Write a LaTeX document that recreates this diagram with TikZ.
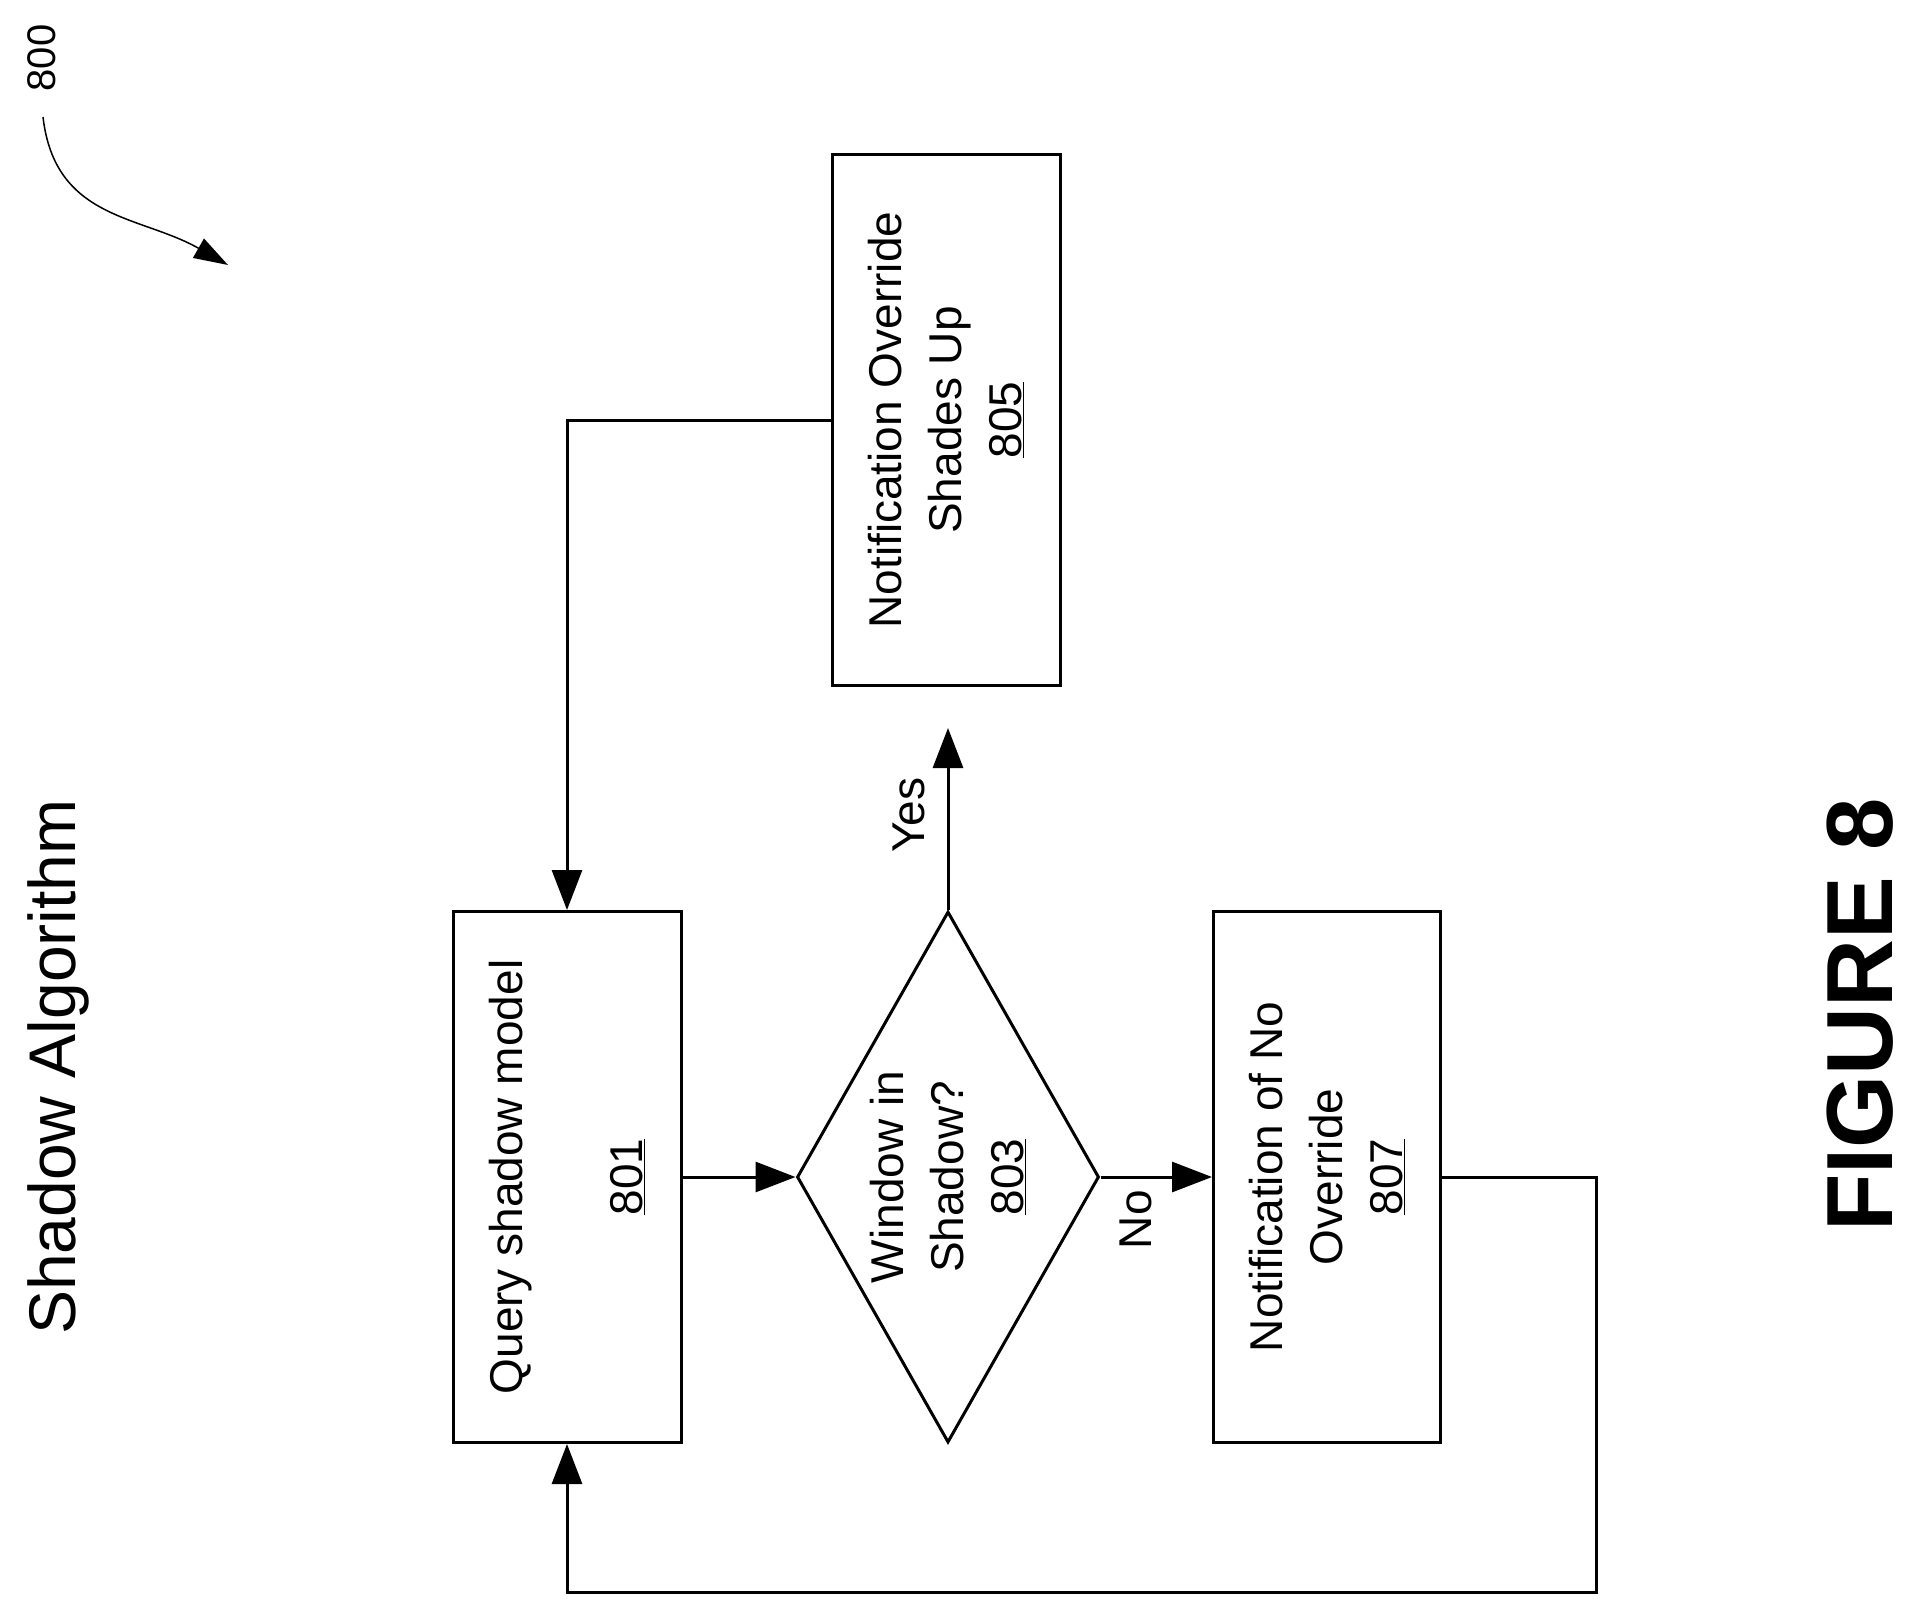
\documentclass[tikz,border=0pt]{standalone}
\usepackage{fontspec}
\setmainfont{Liberation Sans}
\usetikzlibrary{shapes.geometric,arrows.meta}
\begin{document}
\begin{tikzpicture}[x=1pt,y=-1pt,
 box/.style={draw,line width=3pt,rotate=90,inner sep=0,align=center,font=\fontsize{46}{60}\selectfont},
 arr/.style={line width=3pt,-{Triangle[length=40pt,width=30pt]}},
 lbl/.style={rotate=90,font=\fontsize{46}{56}\selectfont,inner sep=0}]
\useasboundingbox (0,0) rectangle (1915,1601);
\node[box,minimum width=531,minimum height=228] (b801) at (567,1177) {Query shadow model\\ \\\underline{801}};
\node[box,shape=diamond,minimum width=531,minimum height=302,shape aspect=1.76] (d803) at (948,1177) {Window in\\Shadow?\\\underline{803}};
\node[box,minimum width=531,minimum height=227] (b807) at (1327,1177) {Notification of No\\Override\\\underline{807}};
\node[box,minimum width=531,minimum height=228] (b805) at (946,420) {Notification Override\\Shades Up\\\underline{805}};
\coordinate (yesend) at (948,728);
\coordinate (c1) at (1596,1592);
\draw[arr] (b801.south) -- (d803.north);
\draw[arr] (d803.south) -- (b807.north);
\draw[arr] (d803.east) -- (yesend);
\draw[arr] (b805.north) -| (b801.east);
\draw[arr] (b807.south) -| (c1) -| (b801.west);
\node[lbl,anchor=south] (yes) at (925,815) {Yes};
\node[lbl,anchor=north east] (no) at (1120,1190) {No};
\node[lbl,font=\fontsize{66}{70}\selectfont] (title) at (58,1067) {Shadow Algorithm};
\node[lbl,font=\fontsize{94}{100}\selectfont\bfseries] (fig) at (1860,1015) {FIGURE 8};
\node[lbl,font=\fontsize{40}{44}\selectfont] (n800) at (42,58) {800};
\coordinate (tip) at (228,265);
\draw[line width=1.5pt,-{Triangle[length=34pt,width=22pt]}] (43,117) .. controls (55,220) and (140,215) .. (tip);
\end{tikzpicture}
\end{document}
